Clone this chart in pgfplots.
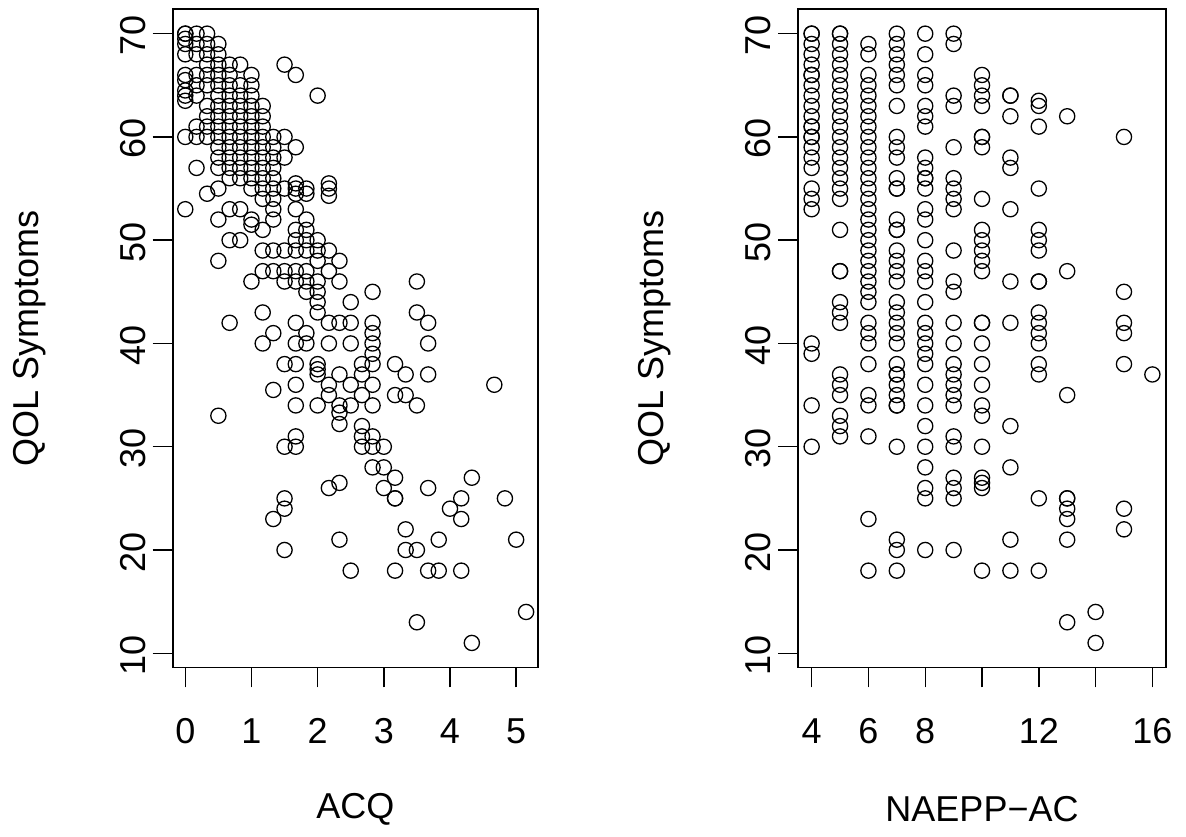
\documentclass[border=0pt]{standalone}
\usepackage{fontspec}
\setmainfont{Liberation Sans}
\usepackage{pgfplots}
\pgfplotsset{compat=1.18}

% base-R look: open circles, box, outside ticks, rotated y labels
\pgfplotsset{
  rbase/.style={
    scale only axis,
    anchor=south west,
    height=329pt,
    ymin=8.64, ymax=72.36,
    ytick={10,20,...,70},
    axis line style={line width=0.8pt},
    tick style={line width=0.7pt, black},
    tick align=outside,
    major tick length=10pt,
    xtick pos=bottom, ytick pos=left,
    /pgf/number format/assume math mode=true,
    tick label style={font=\fontsize{18}{20}\selectfont},
    xticklabel style={yshift=-12pt},
    yticklabel style={rotate=90, anchor=south, xshift=-1pt},
    every axis x label/.style={at={(axis description cs:0.5,0)}, yshift=-71pt, anchor=center,
      font=\fontsize{18}{21}\selectfont},
    every axis y label/.style={at={(axis description cs:0,0.5)}, xshift=-71.5pt, rotate=90, anchor=center,
      font=\fontsize{18}{21}\selectfont},
    ylabel={QOL Symptoms},
  },
  rpts/.style={only marks, mark=o, mark size=3.8pt, black, line width=0.65pt},
}

\begin{document}
\begin{tikzpicture}
\useasboundingbox (0,0) rectangle (593pt,418pt);

% ==== left: ACQ ====
\begin{axis}[rbase,
  at={(86.35pt,84.35pt)}, width=182.65pt,
  xmin=-0.19, xmax=5.33,
  xtick={0,1,2,3,4,5},
  xlabel={ACQ},
]
\addplot[rpts] coordinates {
(0,70) (0,70) (0,69.5) (0,69) (0,68) (0,66) (0,65.5) (0,64.5) (0,64) (0,63.5) (0,60) (0,53)
(0.17,70) (0.17,69) (0.17,68) (0.17,66) (0.17,65) (0.17,64) (0.17,61) (0.17,60) (0.17,57)
(0.33,70) (0.33,69) (0.33,68) (0.33,67) (0.33,66) (0.33,65) (0.33,63) (0.33,62) (0.33,61) (0.33,60) (0.33,54.5)
(0.5,69) (0.5,68) (0.5,67) (0.5,66) (0.5,65) (0.5,64) (0.5,63) (0.5,62) (0.5,61) (0.5,60) (0.5,59) (0.5,58) (0.5,57) (0.5,55) (0.5,52) (0.5,48) (0.5,33)
(0.67,67) (0.67,66) (0.67,65) (0.67,64) (0.67,63) (0.67,62) (0.67,61) (0.67,60) (0.67,59) (0.67,58) (0.67,57) (0.67,56) (0.67,53) (0.67,50) (0.67,42)
(0.83,67) (0.83,65) (0.83,64) (0.83,63) (0.83,62) (0.83,61) (0.83,60) (0.83,59) (0.83,58) (0.83,57) (0.83,56) (0.83,53) (0.83,50)
(1,66) (1,65) (1,64) (1,63) (1,62) (1,61) (1,60) (1,59) (1,58) (1,57) (1,56) (1,55) (1,52) (1,51.5) (1,46)
(1.17,63) (1.17,62) (1.17,61) (1.17,60) (1.17,59) (1.17,58) (1.17,57) (1.17,56) (1.17,55) (1.17,54) (1.17,51) (1.17,49) (1.17,47) (1.17,43) (1.17,40)
(1.33,60) (1.33,59) (1.33,58) (1.33,57) (1.33,56) (1.33,55) (1.33,54) (1.33,53) (1.33,52) (1.33,49) (1.33,47) (1.33,41) (1.33,35.5) (1.33,23)
(1.5,67) (1.5,60) (1.5,58) (1.5,55) (1.5,49) (1.5,47) (1.5,46) (1.5,38) (1.5,30) (1.5,25) (1.5,24) (1.5,20)
(1.67,66) (1.67,59) (1.67,55.5) (1.67,55) (1.67,54.5) (1.67,53) (1.67,51) (1.67,50) (1.67,49) (1.67,47) (1.67,46) (1.67,42) (1.67,40) (1.67,38) (1.67,36) (1.67,34) (1.67,31) (1.67,30)
(1.83,55) (1.83,54.5) (1.83,52) (1.83,51) (1.83,50) (1.83,49) (1.83,47) (1.83,46) (1.83,45) (1.83,41) (1.83,40)
(2,64) (2,50) (2,49) (2,48) (2,46) (2,45) (2,44) (2,43) (2,38) (2,37.5) (2,37) (2,34)
(2.17,55.5) (2.17,55) (2.17,54.3) (2.17,49) (2.17,47) (2.17,42) (2.17,40) (2.17,36) (2.17,35) (2.17,26)
(2.33,48) (2.33,46) (2.33,42) (2.33,37) (2.33,34) (2.33,33.3) (2.33,32.2) (2.33,26.5) (2.33,21)
(2.5,44) (2.5,42) (2.5,40) (2.5,36) (2.5,34) (2.5,18)
(2.67,38) (2.67,37) (2.67,35) (2.67,32) (2.67,31) (2.67,30)
(2.83,45) (2.83,42) (2.83,41) (2.83,40) (2.83,39) (2.83,38) (2.83,36) (2.83,34) (2.83,31) (2.83,30) (2.83,28)
(3,30) (3,28) (3,26)
(3.17,38) (3.17,35) (3.17,27) (3.17,25) (3.17,25) (3.17,18)
(3.33,37) (3.33,35) (3.33,22) (3.33,20)
(3.5,46) (3.5,43) (3.5,34) (3.5,20) (3.5,13)
(3.67,42) (3.67,40) (3.67,37) (3.67,26) (3.67,18)
(3.83,21) (3.83,18)
(4,24) (4.17,25) (4.17,23) (4.17,18) (4.33,27) (4.33,11)
(4.67,36) (4.83,25) (5,21) (5.15,14)
};
\end{axis}

% ==== right: NAEPP-AC ====
\begin{axis}[rbase,
  at={(399pt,84.35pt)}, width=184pt,
  xmin=3.52, xmax=16.48,
  xtick={4,6,...,16},
  xticklabels={4,6,8,,12,,16},
  xlabel={NAEPP−AC},
]
\addplot[rpts] coordinates {
(4,70) (4,70) (4,69) (4,68) (4,67) (4,66) (4,66) (4,65) (4,64) (4,63) (4,62) (4,61) (4,61) (4,60) (4,60) (4,59) (4,58) (4,57) (4,55) (4,54) (4,53) (4,40) (4,39) (4,34) (4,30)
(5,70) (5,70) (5,69) (5,68) (5,67) (5,66) (5,65) (5,64) (5,63) (5,62) (5,61) (5,60) (5,59) (5,58) (5,57) (5,56) (5,55) (5,54) (5,51) (5,47) (5,47) (5,44) (5,43) (5,42) (5,37) (5,36) (5,35) (5,33) (5,32) (5,31)
(6,69) (6,68) (6,66) (6,65) (6,64) (6,63) (6,62) (6,61) (6,60) (6,59) (6,58) (6,57) (6,56) (6,55) (6,54) (6,53) (6,52) (6,51) (6,50) (6,49) (6,48) (6,47) (6,46) (6,45) (6,44) (6,42) (6,41) (6,40) (6,38) (6,35) (6,34) (6,31) (6,23) (6,18)
(7,70) (7,69) (7,68) (7,67) (7,66) (7,65) (7,63) (7,60) (7,59) (7,58) (7,56) (7,55) (7,55) (7,52) (7,51) (7,51) (7,49) (7,48) (7,47) (7,46) (7,44) (7,43) (7,42) (7,41) (7,40) (7,38) (7,37) (7,37) (7,36) (7,35) (7,34) (7,34) (7,30) (7,21) (7,20) (7,18)
(8,70) (8,68) (8,66) (8,65) (8,63) (8,62) (8,61) (8,58) (8,57) (8,56) (8,56) (8,55) (8,53) (8,52) (8,50) (8,48) (8,47) (8,46) (8,44) (8,42) (8,41) (8,40) (8,39) (8,38) (8,36) (8,34) (8,32) (8,30) (8,28) (8,26) (8,25) (8,20)
(9,70) (9,69) (9,64) (9,63) (9,59) (9,56) (9,55) (9,54) (9,53) (9,49) (9,46) (9,45) (9,42) (9,40) (9,38) (9,37) (9,36) (9,35) (9,34) (9,31) (9,30) (9,27) (9,26) (9,25) (9,20)
(10,66) (10,65) (10,64) (10,63) (10,60) (10,60) (10,59) (10,54) (10,51) (10,50) (10,49) (10,48) (10,47) (10,42) (10,42) (10,40) (10,38) (10,36) (10,34) (10,33) (10,30) (10,27) (10,26.5) (10,26) (10,18)
(11,64) (11,64) (11,62) (11,58) (11,57) (11,53) (11,46) (11,42) (11,32) (11,28) (11,21) (11,18)
(12,63.5) (12,63) (12,61) (12,55) (12,51) (12,50) (12,49) (12,46) (12,46) (12,43) (12,42) (12,41) (12,40) (12,38) (12,37) (12,25) (12,18)
(13,62) (13,47) (13,35) (13,25) (13,25) (13,24) (13,23) (13,21) (13,13)
(14,14) (14,11)
(15,60) (15,45) (15,42) (15,41) (15,38) (15,24) (15,22)
(16,37)
};
\end{axis}
\end{tikzpicture}
\end{document}
